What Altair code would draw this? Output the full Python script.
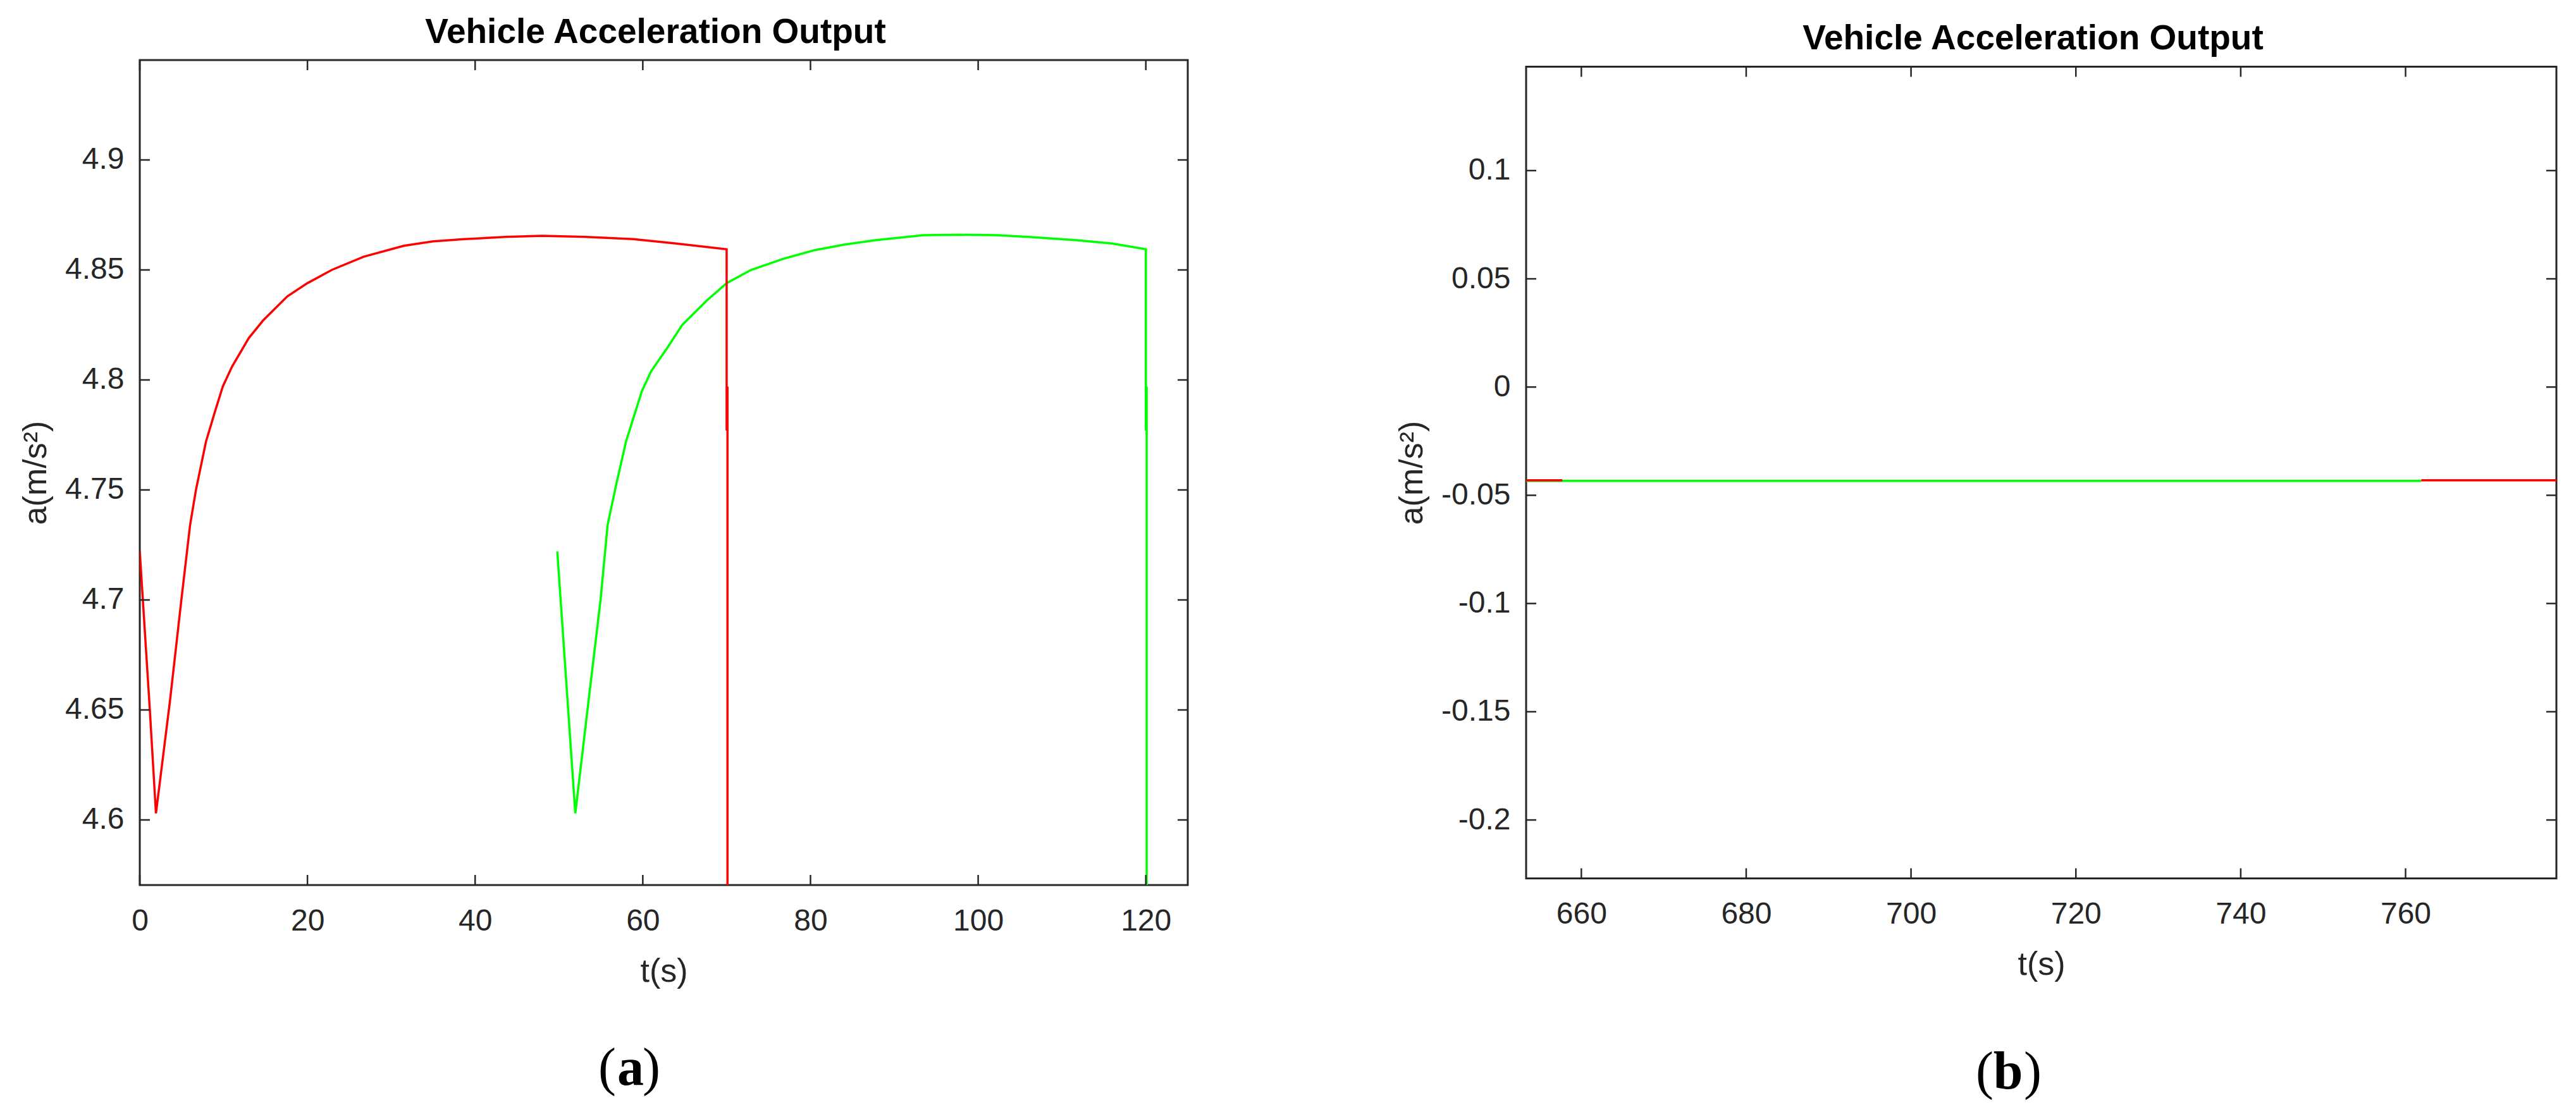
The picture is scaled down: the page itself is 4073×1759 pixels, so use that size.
import altair as alt
import pandas as pd

# ---------------- panel (a) data ----------------
a_red_t = [0.0, 1.2, 1.93, 3.6, 4.96, 6.0, 6.7, 7.9, 9.0, 9.9,
           11.0, 13.0, 14.7, 17.6, 20.0, 22.9, 26.7, 31.5, 35.0, 38.7,
           43.6, 48.0, 53.2, 58.9, 64.0, 70.0, 70.0, 70.1, 70.1]
a_red_v = [4.722, 4.650, 4.603, 4.654, 4.700, 4.734, 4.750, 4.772, 4.786, 4.797,
           4.806, 4.819, 4.827, 4.838, 4.844, 4.850, 4.856, 4.861, 4.863, 4.864,
           4.865, 4.8655, 4.865, 4.864, 4.862, 4.8594, 4.777, 4.797, 4.40]

a_green_t = [49.8, 51.1, 51.95, 53.4, 54.96, 55.8, 56.8, 58.0, 58.9, 59.9,
             61.0, 63.0, 64.7, 67.6, 70.0, 72.9, 76.7, 80.5, 84.0, 87.7,
             93.5, 98.0, 102.2, 106.0, 111.8, 116.0, 120.0, 120.0, 120.1, 120.1]
a_green_v = [4.722, 4.650, 4.603, 4.650, 4.700, 4.734, 4.752, 4.772, 4.783, 4.795,
             4.804, 4.815, 4.825, 4.836, 4.844, 4.850, 4.855, 4.859, 4.8615, 4.8635,
             4.8658, 4.866, 4.8658, 4.865, 4.8635, 4.862, 4.8594, 4.777, 4.797, 4.40]

a_xticks = [0, 20, 40, 60, 80, 100, 120]
a_yticks = [4.6, 4.65, 4.7, 4.75, 4.8, 4.85, 4.9]
a_xdomain = [0, 125]
a_ydomain = [4.5704, 4.9454]

# ---------------- panel (b) data ----------------
b_green_t = [653.3, 761.9]
b_green_v = [-0.0434, -0.0434]
b_red_t = [653.3, 657.7, 761.9, 778.3]
b_red_v = [-0.0431, -0.0431, -0.0431, -0.0431]
b_red_seg = [1, 1, 2, 2]

b_xticks = [660, 680, 700, 720, 740, 760]
b_yticks = [-0.2, -0.15, -0.1, -0.05, 0, 0.05, 0.1]
b_xdomain = [653.3, 778.3]
b_ydomain = [-0.227, 0.148]

TITLE = "Vehicle Acceleration Output"
FONT = "Liberation Sans"
SERIF = "Liberation Serif"
INK = "#262626"
RED = "#FF0000"
GREEN = "#00FF00"


def line_df(t, v, seg=None):
    return pd.DataFrame({
        "t": t,
        "v": v,
        "i": list(range(len(t))),
        "seg": seg if seg is not None else [0] * len(t),
    })


def panel(lines, xdom, ydom, xticks, yticks, W, H, letter, cap_x, cap_y, lp_x, rp_x, title_dx):
    xs = alt.Scale(domain=xdom, nice=False, zero=False)
    ys = alt.Scale(domain=ydom, nice=False, zero=False)
    xa = alt.Axis(values=xticks, title="t(s)", ticks=False, domain=False, grid=False,
                  labelExpr="'' + datum.value", labelFont=FONT, labelFontSize=48,
                  labelColor=INK, labelPadding=33, labelFlush=False, labelOverlap=False,
                  titleFont=FONT, titleFontSize=52, titleFontWeight="normal",
                  titleColor=INK, titlePadding=30)
    ya = alt.Axis(values=yticks, title="a(m/s²)", ticks=False, domain=False, grid=False,
                  labelExpr="'' + datum.value", labelFont=FONT, labelFontSize=48,
                  labelColor=INK, labelPadding=25, labelFlush=False, labelOverlap=False,
                  titleFont=FONT, titleFontSize=52, titleFontWeight="normal",
                  titleColor=INK, titlePadding=19)
    X = lambda f: alt.X(f, scale=xs, axis=xa)
    Y = lambda f: alt.Y(f, scale=ys, axis=ya)
    layers = []
    for df, color in lines:
        layers.append(
            alt.Chart(df).mark_line(color=color, strokeWidth=3.5, clip=True).encode(
                x=X("t:Q"), y=Y("v:Q"), order="i:Q", detail="seg:N",
            )
        )
    xt = pd.DataFrame({"t": xticks})
    yt = pd.DataFrame({"v": yticks})
    tick = dict(color=INK, strokeWidth=2.5)
    layers.append(alt.Chart(xt).mark_rule(**tick).encode(
        x=X("t:Q"), y=alt.value(H), y2=alt.value(H - 16)))
    layers.append(alt.Chart(xt).mark_rule(**tick).encode(
        x=X("t:Q"), y=alt.value(0), y2=alt.value(16)))
    layers.append(alt.Chart(yt).mark_rule(**tick).encode(
        y=Y("v:Q"), x=alt.value(0), x2=alt.value(16)))
    layers.append(alt.Chart(yt).mark_rule(**tick).encode(
        y=Y("v:Q"), x=alt.value(W), x2=alt.value(W - 16)))

    cap = pd.DataFrame({"k": [0]})
    layers.append(alt.Chart(cap).mark_text(text="(", font=SERIF, fontSize=84, align="right",
                                           baseline="alphabetic", color="black").encode(
        x=alt.value(lp_x), y=alt.value(H + cap_y)))
    layers.append(alt.Chart(cap).mark_text(text=letter, font=SERIF, fontSize=84, fontWeight="bold",
                                           align="center", baseline="alphabetic", color="black").encode(
        x=alt.value(cap_x), y=alt.value(H + cap_y)))
    layers.append(alt.Chart(cap).mark_text(text=")", font=SERIF, fontSize=84, align="left",
                                           baseline="alphabetic", color="black").encode(
        x=alt.value(rp_x), y=alt.value(H + cap_y)))

    return alt.layer(*layers).properties(
        width=W, height=H,
        title=alt.TitleParams(TITLE, font=FONT, fontSize=55, fontWeight="bold", color="black",
                              offset=14, anchor="middle", frame="group", dx=title_dx),
    )


pa = panel(
    [(line_df(a_green_t, a_green_v), GREEN), (line_df(a_red_t, a_red_v), RED)],
    a_xdomain, a_ydomain, a_xticks, a_yticks, 1657, 1305, "a",
    776, 316, 753, 795, -13,
)
pb = panel(
    [(line_df(b_green_t, b_green_v), GREEN), (line_df(b_red_t, b_red_v, b_red_seg), RED)],
    b_xdomain, b_ydomain, b_xticks, b_yticks, 1629, 1284, "b",
    762, 332, 739, 787, -13,
)

chart = alt.hconcat(pa, pb, spacing=535, bounds="flush", center=True).configure_view(
    stroke=INK, strokeWidth=3
).properties(
    padding={"left": 21, "top": 14, "right": 5, "bottom": 5},
    background="white",
)

chart.save("out.html", embed_options={"renderer": "svg", "actions": False})
